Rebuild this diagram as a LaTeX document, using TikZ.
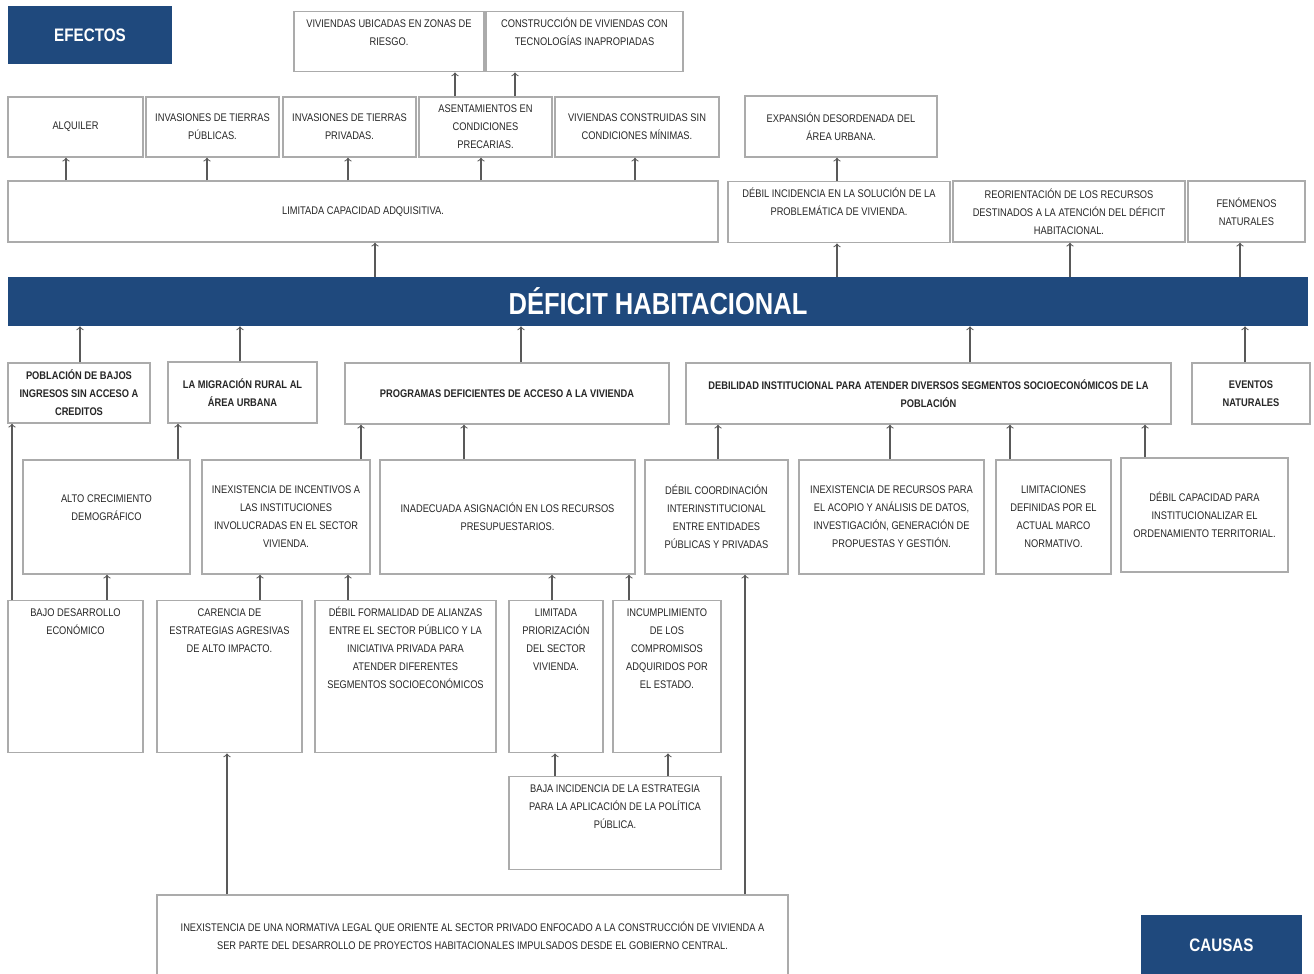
\documentclass[tikz,border=0pt]{standalone}
\usepackage{fontspec}
\setmainfont[FakeStretch=0.84]{Liberation Sans}
\definecolor{azul}{HTML}{1F497D}
\definecolor{borde}{HTML}{ABABAB}
\definecolor{gris}{HTML}{595959}

\begin{document}
\begin{tikzpicture}[x=0.02cm,y=-0.02cm,
  caja/.style={draw=borde,line width=0.8pt,fill=white,align=center,inner xsep=2pt,inner ysep=0.1cm,
    font=\fontsize{6.3}{10.2}\selectfont,text=black!85},
  causa/.style={caja,font=\fontsize{6.3}{10.2}\selectfont\bfseries},
  arriba/.style={anchor=north,inner ysep=2pt},
  titulo/.style={fill=azul,text=white,font=\fontsize{10.3}{12}\selectfont\bfseries},
  flecha/.style={draw=gris,line width=0.6pt,->}]

\useasboundingbox (0,0) rectangle (1314,973);

% efectos
\node[titulo,minimum width=3.28cm,minimum height=1.16cm] (efe) at (90,35) {EFECTOS};
\node[caja,arriba,minimum width=3.8cm] (v1) at (389,11)
  {\parbox[c][1.06cm][t]{3.62cm}{\centering\strut VIVIENDAS UBICADAS EN ZONAS DE\\RIESGO.}};
\node[caja,arriba,minimum width=3.94cm] (v2) at (584.5,11)
  {\parbox[c][1.06cm][t]{3.76cm}{\centering\strut CONSTRUCCIÓN DE VIVIENDAS CON\\TECNOLOGÍAS INAPROPIADAS}};

\node[caja,minimum width=2.7cm,minimum height=1.2cm] (alq) at (75.5,127) {ALQUILER};
\node[caja,minimum width=2.66cm,minimum height=1.2cm] (ipub) at (212.5,127) {INVASIONES DE TIERRAS\\PÚBLICAS.};
\node[caja,minimum width=2.66cm,minimum height=1.2cm] (ipriv) at (349.5,127) {INVASIONES DE TIERRAS\\PRIVADAS.};
\node[caja,minimum width=2.66cm,minimum height=1.2cm] (asen) at (485.5,127) {ASENTAMIENTOS EN\\CONDICIONES\\PRECARIAS.};
\node[caja,minimum width=3.28cm,minimum height=1.2cm] (vcsc) at (637,127) {VIVIENDAS CONSTRUIDAS SIN\\CONDICIONES MÍNIMAS.};
\node[caja,minimum width=3.84cm,minimum height=1.22cm] (expa) at (841,126.5) {EXPANSIÓN DESORDENADA DEL\\ÁREA URBANA.};

\node[caja,minimum width=14.2cm,minimum height=1.22cm] (lim) at (363,211.5) {LIMITADA CAPACIDAD ADQUISITIVA.};
\node[caja,arriba,minimum width=4.44cm] (dinc) at (839,181)
  {\parbox[c][1.08cm][t]{4.26cm}{\centering\strut DÉBIL INCIDENCIA EN LA SOLUCIÓN DE LA\\PROBLEMÁTICA DE VIVIENDA.}};
\node[caja,minimum width=4.64cm,minimum height=1.22cm] (reor) at (1069,211.5) {REORIENTACIÓN DE LOS RECURSOS\\DESTINADOS A LA ATENCIÓN DEL DÉFICIT\\HABITACIONAL.};
\node[caja,minimum width=2.34cm,minimum height=1.22cm] (feno) at (1246.5,211.5) {FENÓMENOS\\NATURALES};

\node[titulo,minimum width=26cm,minimum height=0.98cm,font=\fontsize{17.3}{19}\selectfont\bfseries] (def) at (658,301.5) {DÉFICIT HABITACIONAL};

% causas
\node[causa,minimum width=2.84cm,minimum height=1.2cm] (pob) at (79,393) {POBLACIÓN DE BAJOS\\INGRESOS SIN ACCESO A\\CREDITOS};
\node[causa,minimum width=2.98cm,minimum height=1.22cm] (mig) at (242.5,392.5) {LA MIGRACIÓN RURAL AL\\ÁREA URBANA};
\node[causa,minimum width=6.48cm,minimum height=1.22cm] (prog) at (507,393.5) {PROGRAMAS DEFICIENTES DE ACCESO A LA VIVIENDA};
\node[causa,minimum width=9.7cm,minimum height=1.22cm] (debi) at (928.5,393.5) {DEBILIDAD INSTITUCIONAL PARA ATENDER DIVERSOS SEGMENTOS SOCIOECONÓMICOS DE LA\\POBLACIÓN};
\node[causa,minimum width=2.36cm,minimum height=1.22cm] (even) at (1251,393.5) {EVENTOS\\NATURALES};

\node[caja,minimum width=3.34cm,minimum height=2.28cm] (alto) at (106.5,517) {ALTO CRECIMIENTO\\DEMOGRÁFICO\\~};
\node[caja,minimum width=3.36cm,minimum height=2.28cm] (ince) at (286,517) {INEXISTENCIA DE INCENTIVOS A\\LAS INSTITUCIONES\\INVOLUCRADAS EN EL SECTOR\\VIVIENDA.};
\node[caja,minimum width=5.1cm,minimum height=2.28cm] (inad) at (507.5,517) {INADECUADA ASIGNACIÓN EN LOS RECURSOS\\PRESUPUESTARIOS.};
\node[caja,minimum width=2.86cm,minimum height=2.28cm] (dcoo) at (716.5,517) {DÉBIL COORDINACIÓN\\INTERINSTITUCIONAL\\ENTRE ENTIDADES\\PÚBLICAS Y PRIVADAS};
\node[caja,minimum width=3.7cm,minimum height=2.28cm] (irec) at (891.5,517) {INEXISTENCIA DE RECURSOS PARA\\EL ACOPIO Y ANÁLISIS DE DATOS,\\INVESTIGACIÓN, GENERACIÓN DE\\PROPUESTAS Y GESTIÓN.};
\node[caja,minimum width=2.3cm,minimum height=2.28cm] (limn) at (1053.5,517) {LIMITACIONES\\DEFINIDAS POR EL\\ACTUAL MARCO\\NORMATIVO.};
\node[caja,minimum width=3.34cm,minimum height=2.28cm] (dcap) at (1204.5,515) {DÉBIL CAPACIDAD PARA\\INSTITUCIONALIZAR EL\\ORDENAMIENTO TERRITORIAL.};

\node[caja,arriba,minimum width=2.7cm] (bajo) at (75.5,600)
  {\parbox[c][2.9cm][t]{2.52cm}{\centering\strut BAJO DESARROLLO\\ECONÓMICO}};
\node[caja,arriba,minimum width=2.9cm] (care) at (229.5,600)
  {\parbox[c][2.9cm][t]{2.72cm}{\centering\strut CARENCIA DE\\ESTRATEGIAS AGRESIVAS\\DE ALTO IMPACTO.}};
\node[caja,arriba,minimum width=3.62cm] (dfor) at (405.5,600)
  {\parbox[c][2.9cm][t]{3.44cm}{\centering\strut DÉBIL FORMALIDAD DE ALIANZAS\\ENTRE EL SECTOR PÚBLICO Y LA\\INICIATIVA PRIVADA PARA\\ATENDER DIFERENTES\\SEGMENTOS SOCIOECONÓMICOS}};
\node[caja,arriba,minimum width=1.88cm] (lpri) at (556,600)
  {\parbox[c][2.9cm][t]{1.7cm}{\centering\strut LIMITADA\\PRIORIZACIÓN\\DEL SECTOR\\VIVIENDA.}};
\node[caja,arriba,minimum width=2.16cm] (incu) at (667,600)
  {\parbox[c][2.9cm][t]{1.98cm}{\centering\strut INCUMPLIMIENTO\\DE LOS\\COMPROMISOS\\ADQUIRIDOS POR\\EL ESTADO.}};

\node[caja,arriba,minimum width=4.24cm] (baja) at (615,776)
  {\parbox[c][1.72cm][t]{4.06cm}{\centering\strut BAJA INCIDENCIA DE LA ESTRATEGIA\\PARA LA APLICACIÓN DE LA POLÍTICA\\PÚBLICA.}};
\node[caja,minimum width=12.62cm,minimum height=1.62cm] (inor) at (472.5,935.5) {INEXISTENCIA DE UNA NORMATIVA LEGAL QUE ORIENTE AL SECTOR PRIVADO ENFOCADO A LA CONSTRUCCIÓN DE VIVIENDA A\\SER PARTE DEL DESARROLLO DE PROYECTOS HABITACIONALES IMPULSADOS DESDE EL GOBIERNO CENTRAL.};

\node[titulo,minimum width=3.22cm,minimum height=1.22cm] (cau) at (1221.5,945.5) {CAUSAS};

% flechas de efectos
\foreach \x/\n in {375/lim,837/dinc,1070/reor,1240/feno}
  \draw[flecha] (def.north -| \x,0) -- (\n.south -| \x,0);
\foreach \x/\n in {66/alq,207/ipub,348/ipriv,481/asen,635/vcsc}
  \draw[flecha] (lim.north -| \x,0) -- (\n.south -| \x,0);
\foreach \x/\n in {455/v1,515/v2}
  \draw[flecha] (asen.north -| \x,0) -- (\n.south -| \x,0);
\draw[flecha] (dinc.north -| 837,0) -- (expa.south -| 837,0);

% flechas de causas
\foreach \x/\n in {80/pob,240/mig,521/prog,970/debi,1245/even}
  \draw[flecha] (\n.north -| \x,0) -- (def.south -| \x,0);
\foreach \x/\a/\b in {12/bajo/pob,107/bajo/alto,178/alto/mig,361/ince/prog,464/inad/prog,
    718/dcoo/debi,890/irec/debi,1010/limn/debi,1145/dcap/debi,260/care/ince,348/dfor/ince,
    552/lpri/inad,629/incu/inad,555/baja/lpri,668/baja/incu,227/inor/care,745/inor/dcoo}
  \draw[flecha] (\a.north -| \x,0) -- (\b.south -| \x,0);
\end{tikzpicture}
\end{document}
